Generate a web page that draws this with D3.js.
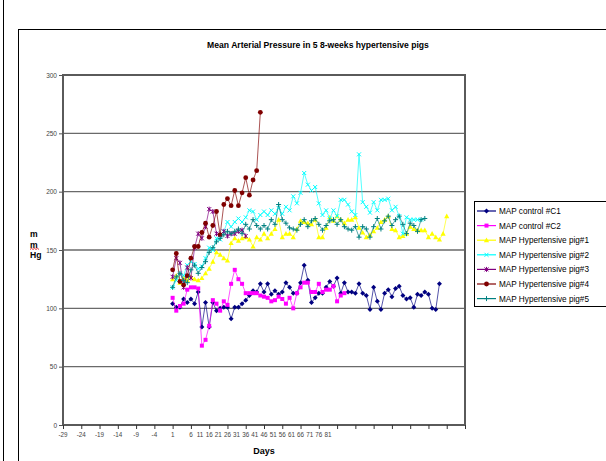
<!DOCTYPE html>
<html><head><meta charset="utf-8">
<script src="https://cdn.jsdelivr.net/npm/d3@7"></script>
<style>body{margin:0;background:#fff} svg{display:block;font-family:"Liberation Sans",Arial,sans-serif}</style>
</head><body><svg id="c" width="606" height="461"></svg>
<script>
// ---------- data ----------
const titleText = "Mean Arterial Pressure in 5 8-weeks hypertensive pigs";
const xTitle = "Days";
const yTitleLines = ["m", "m", "Hg"];
const seriesNames = ["MAP control #C1", "MAP control #C2", "MAP Hypertensive pig#1",
  "MAP Hypertensive pig#2", "MAP Hypertensive pig#3", "MAP Hypertensive pig#4", "MAP Hypertensive pig#5"];
const seriesColors = ["#000080", "#FF00FF", "#FFFF00", "#00FFFF", "#800080", "#800000", "#008080"];
const seriesMarkers = ["diamond", "square", "triangle", "x", "asterisk", "circle", "plus"];
const firstDay = 1;

const controlC1 = [104,101,101,108,105,108,104,114,84,105,
  84,105,98,100,101,101,91,101,101,104,
  107,111,115,114,121,114,121,112,115,112,
  114,122,118,113,113,122,137,124,105,109,
  113,113,118,123,119,126,113,122,114,114,
  113,121,113,111,99,118,106,99,113,116,
  110,117,119,111,108,109,101,112,111,114,
  112,100,99,121];
const controlC2 = [109,98,102,104,116,118,118,117,68,73,
  85,107,104,98,106,103,121,133,125,121,
  113,113,113,113,111,110,109,106,107,110,
  108,104,109,100,113,118,122,122,114,114,
  121,114,116,116,119,106,111,113];
const pig1 = [125,128,122,126,124,127,125,124,126,130,
  134,140,148,146,143,141,156,160,158,160,
  161,159,153,161,159,164,160,164,168,176,
  161,164,164,161,168,175,174,173,172,176,
  161,161,169,178,175,179,176,173,176,176,
  178,169,165,161,163,166,169,174,176,179,
  168,167,161,162,164,170,168,167,167,167,
  161,164,161,159,164,179];
const pig2 = [118,124,130,128,137,140,138,134,136,143,
  152,150,160,159,166,174,170,174,177,174,
  178,184,183,176,180,183,180,184,181,186,
  181,187,184,196,190,199,216,206,201,204,
  190,180,184,177,184,179,193,193,189,183,
  180,232,191,187,182,191,184,193,193,194,
  184,187,179,164,178,176,176,176,176];
const pig3 = [127,143,139,118,135,126,152,164,160,170,
  185,183,164,163,166,162,164,164,166,167,162];
const pig4 = [133,147,123,120,128,143,153,153,165,173,
  161,171,183,163,189,194,188,201,188,199,
  212,197,210,218,268];
const pig5 = [118,127,130,124,122,133,137,130,135,140,
  148,152,157,160,163,166,164,166,168,164,
  172,168,176,171,168,171,168,176,172,189,
  176,173,169,168,167,172,176,170,175,177,
  172,167,171,175,176,172,176,170,168,167,
  170,161,170,168,161,170,177,168,175,179,
  171,176,179,172,164,173,171,166,176,177];
const seriesValues = [controlC1, controlC2, pig1, pig2, pig3, pig4, pig5];

const yTicks = [0, 50, 100, 150, 200, 250, 300];
const xTickDays = [-29,-24,-19,-14,-9,-4,1,6,11,16,21,26,31,36,41,46,51,56,61,66,71,76,81];
const xTickLabels = ["-29","-24","-19","-14","-9","-4","1","6","11","16","21","26","31","36","41","46","51","56","61","66","71","76","81"];

// ---------- drawing ----------
const svg = d3.select("#c");
svg.append("rect").attr("width", 606).attr("height", 461).attr("fill", "#fff");
svg.append("line").attr("x1", 3.5).attr("x2", 3.5).attr("y1", 0).attr("y2", 461).attr("stroke", "#000");
svg.append("rect").attr("x", 18.5).attr("y", 29.5).attr("width", 700).attr("height", 500)
  .attr("fill", "none").attr("stroke", "#000");

const L = 63, R = 465, T = 75, B = 425;
const x = d3.scaleLinear().domain([-29, 81]).range([L, R]);
const y = d3.scaleLinear().domain([0, 300]).range([B, T]);
// compressed label placement (as in the original)
const xLab = d3.scaleLinear().domain([6, 81]).range([x(6), x(43.5)]);

// gridlines
svg.append("g").selectAll("line").data(yTicks.filter(v => v > 0 && v < 300)).join("line")
  .attr("x1", L).attr("x2", R).attr("y1", d => y(d)).attr("y2", d => y(d))
  .attr("stroke", "#6a6a6a").attr("stroke-width", 1.4);
// plot border
svg.append("rect").attr("x", L).attr("y", T).attr("width", R - L).attr("height", B - T)
  .attr("fill", "none").attr("stroke", "#5a5a5a").attr("stroke-width", 2);

// y axis
const yAxis = svg.append("g").attr("transform", `translate(${L},0)`)
  .call(d3.axisLeft(y).tickValues(yTicks).tickSize(4).tickPadding(2));
yAxis.select(".domain").remove();
yAxis.selectAll("line").attr("stroke", "#555");
yAxis.selectAll("text").attr("font-size", 6.5).attr("fill", "#444").attr("font-family", "Liberation Sans, Arial");

// x axis
const xAxis = svg.append("g").attr("transform", `translate(0,${B})`)
  .call(d3.axisBottom(x).tickValues(xTickDays).tickSize(4).tickFormat(""));
xAxis.select(".domain").remove();
xAxis.selectAll("line").attr("stroke", "#333");
svg.append("g").selectAll("text").data(xTickDays).join("text")
  .attr("x", (d, i) => i < 7 ? x(d) : xLab(d))
  .attr("y", 437)
  .attr("text-anchor", "middle").attr("font-size", 6.3).attr("fill", "#444")
  .text((d, i) => xTickLabels[i]);

// titles
svg.append("text").attr("x", 318).attr("y", 48).attr("text-anchor", "middle")
  .attr("font-size", 8.6).attr("font-weight", "bold").text(titleText);
svg.append("text").attr("x", 264).attr("y", 454).attr("text-anchor", "middle")
  .attr("font-size", 9).attr("font-weight", "bold").text(xTitle);
const yt = svg.append("g");
yt.selectAll("text").data(yTitleLines).join("text")
  .attr("x", 30).attr("y", (d, i) => 237 + i * 10.5)
  .attr("font-size", 8.6).attr("font-weight", "bold").text(d => d);
// spell-check squiggle under the second "m"
yt.append("path").attr("d", "M30,249.5 l1.5,-1.2 l1.5,1.2 l1.5,-1.2 l1.5,1.2 l1.5,-1.2 l1.5,1.2")
  .attr("fill", "none").attr("stroke", "#e00000").attr("stroke-width", 0.8);

// marker drawing
function marker(g, type, color, cx, cy) {
  const s = 2.5;
  if (type === "diamond")
    g.append("path").attr("d", `M${cx},${cy - s}L${cx + s},${cy}L${cx},${cy + s}L${cx - s},${cy}Z`).attr("fill", color);
  else if (type === "square")
    g.append("rect").attr("x", cx - 2).attr("y", cy - 2).attr("width", 4).attr("height", 4).attr("fill", color);
  else if (type === "triangle")
    g.append("path").attr("d", `M${cx},${cy - 2.6}L${cx + 2.6},${cy + 2}L${cx - 2.6},${cy + 2}Z`).attr("fill", color);
  else if (type === "circle")
    g.append("circle").attr("cx", cx).attr("cy", cy).attr("r", 2.4).attr("fill", color);
  else if (type === "x")
    g.append("path").attr("d", `M${cx - 2},${cy - 2}L${cx + 2},${cy + 2}M${cx - 2},${cy + 2}L${cx + 2},${cy - 2}`)
      .attr("stroke", color).attr("stroke-width", 1);
  else if (type === "plus")
    g.append("path").attr("d", `M${cx - 2.5},${cy}L${cx + 2.5},${cy}M${cx},${cy - 2.5}L${cx},${cy + 2.5}`)
      .attr("stroke", color).attr("stroke-width", 1);
  else if (type === "asterisk")
    g.append("path").attr("d", `M${cx - 2},${cy - 2}L${cx + 2},${cy + 2}M${cx - 2},${cy + 2}L${cx + 2},${cy - 2}M${cx},${cy - 2.5}L${cx},${cy + 2.5}`)
      .attr("stroke", color).attr("stroke-width", 1);
}

// series
const line = d3.line().x(d => x(d.day)).y(d => y(d.v));
seriesValues.forEach((vals, si) => {
  const pts = vals.map((v, i) => ({ day: firstDay + i, v }));
  const g = svg.append("g");
  g.append("path").datum(pts).attr("d", line).attr("fill", "none")
    .attr("stroke", seriesColors[si]).attr("stroke-width", 0.9).attr("stroke-opacity", 0.75);
  pts.forEach(p => marker(g, seriesMarkers[si], seriesColors[si], x(p.day), y(p.v)));
});

// legend
const lg = svg.append("g");
lg.append("rect").attr("x", 474.5).attr("y", 201.5).attr("width", 200).attr("height", 105)
  .attr("fill", "#fff").attr("stroke", "#000");
seriesNames.forEach((name, i) => {
  const cy = 211 + i * 14.6;
  lg.append("line").attr("x1", 477).attr("x2", 496).attr("y1", cy).attr("y2", cy)
    .attr("stroke", seriesColors[i]).attr("stroke-width", 1.2);
  marker(lg, seriesMarkers[i], seriesColors[i], 486.5, cy);
  lg.append("text").attr("x", 499).attr("y", cy + 3).attr("font-size", 8.2).attr("fill", "#000").text(name);
});
</script></body></html>
